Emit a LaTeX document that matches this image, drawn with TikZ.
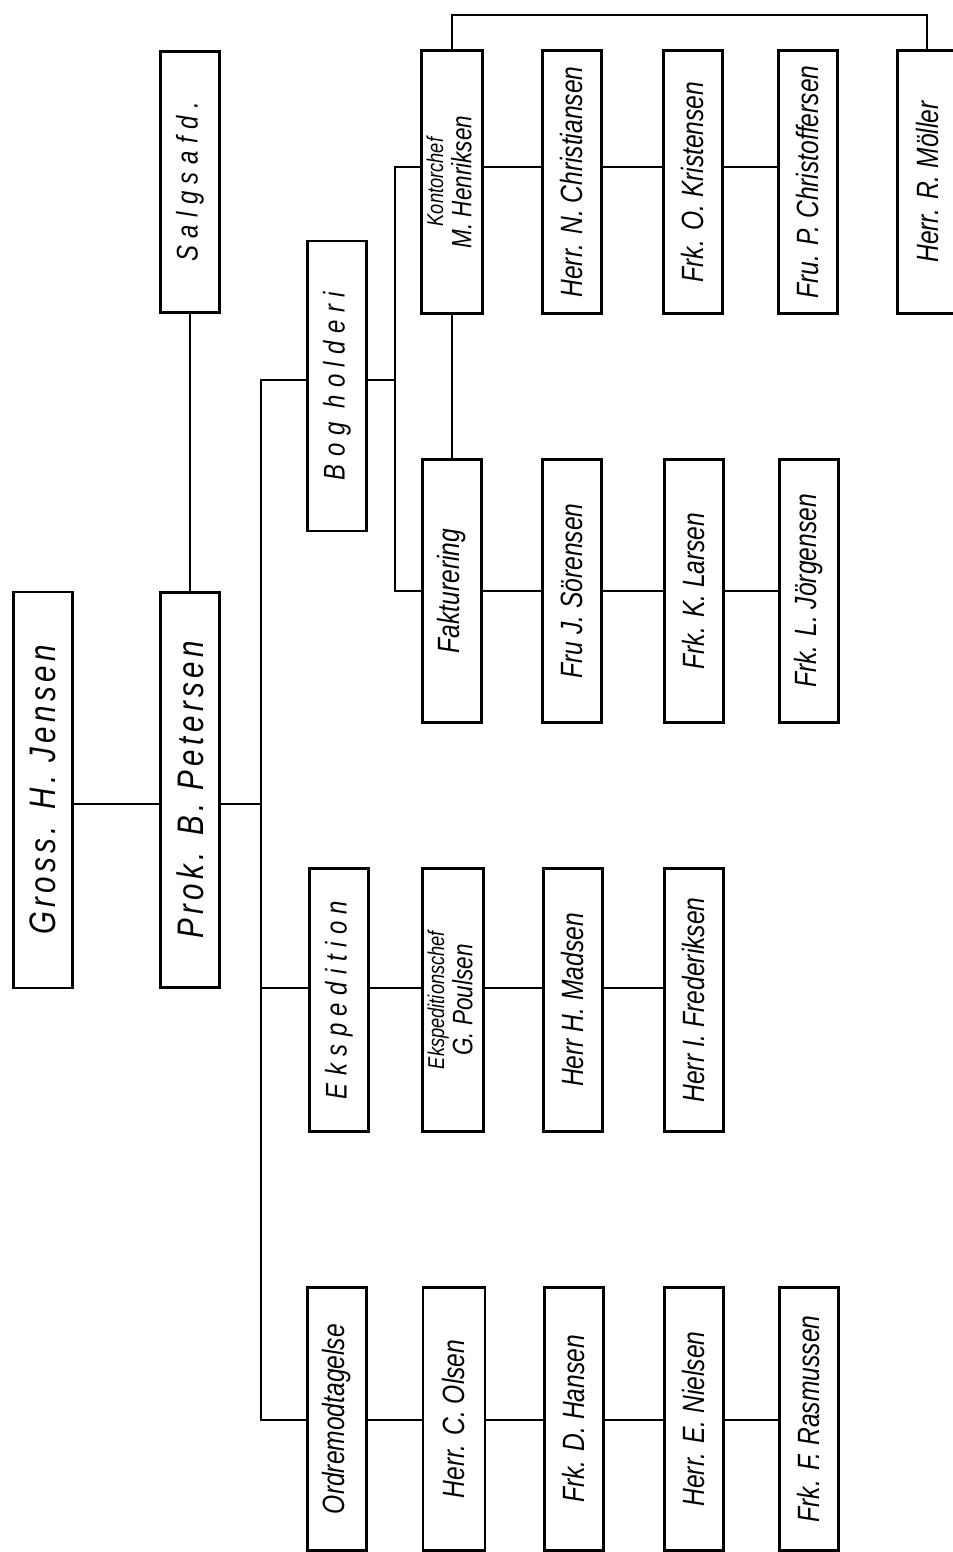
\documentclass[tikz,border=0pt]{standalone}
\usepackage{fontspec}
\usepackage{graphicx}
\usepackage{tikz}
\newfontfamily\handfont{Liberation Sans}[FakeStretch=0.8]
\newcommand{\vtext}[1]{\rotatebox{90}{#1}}
\newcommand{\vtwo}[2]{\rotatebox{90}{\begin{tabular}{@{}c@{}}#1\\#2\end{tabular}}}

\begin{document}
\begin{tikzpicture}[x=0.02cm,y=-0.02cm,
    box/.style={draw, line width=1.2pt, minimum width=1.18cm, minimum height=5.26cm, inner sep=0pt,
      font=\handfont\itshape\fontsize{17.5}{19}\selectfont},
    wide/.style={font=\handfont\itshape\fontsize{17}{20}\selectfont\addfontfeatures{LetterSpace=25}},
    big/.style={font=\handfont\itshape\fontsize{21}{24}\selectfont\addfontfeatures{LetterSpace=12}},
    two/.style={font=\handfont\itshape\fontsize{13}{15}\selectfont},
    link/.style={line width=0.9pt}]
    \useasboundingbox (0,0) rectangle (953,1552);

    % ledelse
    \node[box, big, minimum height=7.92cm] (gross) at (43,790) {\vtext{Gross. H. Jensen}};
    \node[box, big, minimum height=7.9cm] (prok) at (190,790) {\vtext{Prok. B. Petersen}};
    \node[box, wide, minimum height=5.22cm] (salg) at (190,182) {\vtext{Salgsafd.}};

    % afdelinger
    \node[box, wide, minimum height=5.8cm] (bog) at (337,386) {\vtext{Bog holderi}};
    \node[box, wide] (eksp) at (339,1000) {\vtext{Ekspedition}};
    \node[box] (ordre) at (337,1419) {\vtext{Ordremodtagelse}};

    % bogholderi
    \node[box, two, minimum width=1.22cm] (kontor) at (452,182) {\vtwo{Kontorchef}{\fontsize{16}{18}\selectfont M. Henriksen}};
    \node[box] (christiansen) at (572,182) {\vtext{Herr. N. Christiansen}};
    \node[box] (kristensen) at (693,182) {\vtext{Frk. O. Kristensen}};
    \node[box] (christoffersen) at (808,182) {\vtext{Fru. P. Christoffersen}};
    \node[box] (moeller) at (927,182) {\vtext{Herr. R. Möller}};

    \node[box] (faktur) at (452,591) {\vtext{Fakturering}};
    \node[box] (soerensen) at (572,591) {\vtext{Fru J. Sörensen}};
    \node[box] (larsen) at (694,591) {\vtext{Frk. K. Larsen}};
    \node[box] (joergensen) at (809,591) {\vtext{Frk. L. Jörgensen}};

    % ekspedition
    \node[box, two, minimum width=1.22cm] (poulsen) at (453,1000) {\vtwo{Ekspeditionschef}{\fontsize{16}{18}\selectfont G. Poulsen}};
    \node[box] (madsen) at (573,1000) {\vtext{Herr H. Madsen}};
    \node[box] (frederiksen) at (694,1000) {\vtext{Herr I. Frederiksen}};

    % ordremodtagelse
    \node[box, minimum width=1.24cm] (olsen) at (454,1419) {\vtext{Herr. C. Olsen}};
    \node[box] (hansen) at (574,1419) {\vtext{Frk. D. Hansen}};
    \node[box] (nielsen) at (694,1419) {\vtext{Herr. E. Nielsen}};
    \node[box] (rasmussen) at (809,1419) {\vtext{Frk. F. Rasmussen}};

    % linjer
    \coordinate (lvJ) at (0,804);
    \coordinate (lvB) at (0,380);
    \coordinate (lvE) at (0,988);
    \coordinate (lvO) at (0,1420);
    \coordinate (lvK) at (0,167);
    \coordinate (lvF) at (0,591);
    \coordinate (lvTop) at (0,15);
    \coordinate (trunk) at (261,804);
    \coordinate (bogbus) at (395,380);

    \draw[link] (gross.east |- lvJ) -- (prok.west |- lvJ);
    \draw[link] (salg.south) -- (prok.north);
    \draw[link] (prok.east |- lvJ) -- (trunk);
    \draw[link] (bog.west |- lvB) -| (trunk) |- (ordre.west |- lvO);
    \draw[link] (trunk |- lvE) -- (eksp.west |- lvE);

    \draw[link] (bog.east |- lvB) -- (bogbus);
    \draw[link] (kontor.west |- lvK) -| (bogbus) |- (faktur.west |- lvF);
    \draw[link] (kontor.south) -- (faktur.north);
    \draw[line width=1.5pt] (kontor.north) -- (kontor.north |- lvTop) -| (moeller.north);

    \foreach \a/\b in {kontor/christiansen, christiansen/kristensen, kristensen/christoffersen}
        \draw[link] (\a.east |- lvK) -- (\b.west |- lvK);
    \foreach \a/\b in {faktur/soerensen, soerensen/larsen, larsen/joergensen}
        \draw[link] (\a.east |- lvF) -- (\b.west |- lvF);
    \foreach \a/\b in {eksp/poulsen, poulsen/madsen, madsen/frederiksen}
        \draw[link] (\a.east |- lvE) -- (\b.west |- lvE);
    \foreach \a/\b in {ordre/olsen, olsen/hansen, hansen/nielsen, nielsen/rasmussen}
        \draw[link] (\a.east |- lvO) -- (\b.west |- lvO);
\end{tikzpicture}
\end{document}
